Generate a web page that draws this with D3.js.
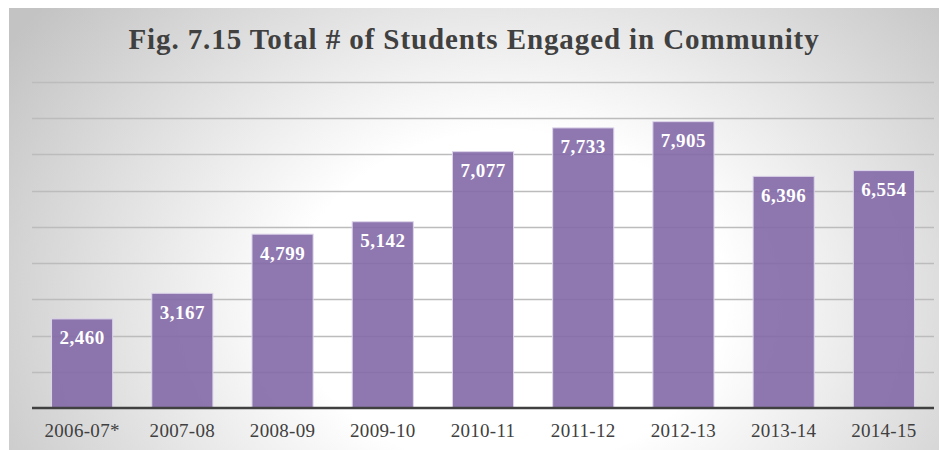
<!DOCTYPE html>
<html>
<head>
<meta charset="utf-8">
<script src="https://cdn.jsdelivr.net/npm/d3@7"></script>
<style>
  html, body { margin: 0; padding: 0; background: #ffffff; }
  svg { display: block; }
</style>
</head>
<body>
<svg id="chart" width="946" height="450"></svg>
<script>
// Students engaged in community, by academic year
const years = ["2006-07*", "2007-08", "2008-09", "2009-10", "2010-11", "2011-12", "2012-13", "2013-14", "2014-15"];
const students = [2460, 3167, 4799, 5142, 7077, 7733, 7905, 6396, 6554];
const gridTicks = [0, 1000, 2000, 3000, 4000, 5000, 6000, 7000, 8000, 9000];
const title = "Fig. 7.15 Total # of Students Engaged in Community";

const frame = { left: 9, top: 8, right: 939, bottom: 450 };
const plot = { left: 32, right: 934, top: 82, bottom: 408 };
const serif = "'Liberation Serif', 'DejaVu Serif', serif";

const svg = d3.select("#chart");
const defs = svg.append("defs");

// Soft radial light behind the plot
const grad = defs.append("radialGradient")
  .attr("id", "bg")
  .attr("gradientUnits", "userSpaceOnUse")
  .attr("cx", 510).attr("cy", 300).attr("r", 600)
  .attr("gradientTransform", "translate(510,300) scale(1,0.78) translate(-510,-300)");
grad.append("stop").attr("offset", 0).attr("stop-color", "#ffffff");
grad.append("stop").attr("offset", 0.36).attr("stop-color", "#ffffff");
grad.append("stop").attr("offset", 1).attr("stop-color", "#c3c3c3");

svg.append("rect")
  .attr("x", frame.left).attr("y", frame.top)
  .attr("width", frame.right - frame.left).attr("height", frame.bottom - frame.top)
  .attr("fill", "url(#bg)");

const x = d3.scaleBand()
  .domain(years)
  .range([plot.left, plot.right])
  .paddingInner(0.39)
  .paddingOuter(0.195);

const y = d3.scaleLinear()
  .domain([0, 9000])
  .range([plot.bottom, plot.top]);

// Horizontal gridlines
svg.append("g")
  .selectAll("line")
  .data(gridTicks.filter(d => d > 0))
  .join("line")
  .attr("x1", plot.left).attr("x2", plot.right)
  .attr("y1", d => Math.round(y(d)) + 0.5).attr("y2", d => Math.round(y(d)) + 0.5)
  .attr("stroke", "#bcbcbc")
  .attr("stroke-width", 1.4);

// Bars (slightly translucent, gridlines show through)
svg.append("g")
  .selectAll("rect")
  .data(students)
  .join("rect")
  .attr("x", (d, i) => x(years[i]))
  .attr("y", d => y(d))
  .attr("width", x.bandwidth())
  .attr("height", d => y(0) - y(d))
  .attr("fill", "rgb(131,105,167)")
  .attr("fill-opacity", 0.9)
  .attr("stroke", "#ddd5ea")
  .attr("stroke-width", 1);

// Value labels inside the top of each bar
svg.append("g")
  .selectAll("text")
  .data(students)
  .join("text")
  .attr("x", (d, i) => x(years[i]) + x.bandwidth() / 2)
  .attr("y", d => y(d) + 25.5)
  .attr("text-anchor", "middle")
  .attr("font-family", serif)
  .attr("font-weight", "bold")
  .attr("font-size", 19)
  .attr("letter-spacing", 0.5)
  .attr("fill", "#ffffff")
  .text(d => d3.format(",")(d));

// Category axis
const xAxis = svg.append("g")
  .attr("transform", `translate(0,${plot.bottom})`)
  .call(d3.axisBottom(x).tickSize(0).tickPadding(16));
xAxis.select(".domain")
  .attr("d", `M${plot.left},0H${plot.right}`)
  .attr("stroke", "#404040")
  .attr("stroke-width", 2.5);
xAxis.selectAll("text")
  .attr("font-family", serif)
  .attr("font-size", 19)
  .attr("letter-spacing", 0.3)
  .attr("fill", "#404040");

// Title
svg.append("text")
  .attr("x", (frame.left + frame.right) / 2)
  .attr("y", 49)
  .attr("text-anchor", "middle")
  .attr("font-family", serif)
  .attr("font-weight", "bold")
  .attr("font-size", 29)
  .attr("letter-spacing", 0.9)
  .attr("fill", "#404040")
  .text(title);
</script>
</body>
</html>
